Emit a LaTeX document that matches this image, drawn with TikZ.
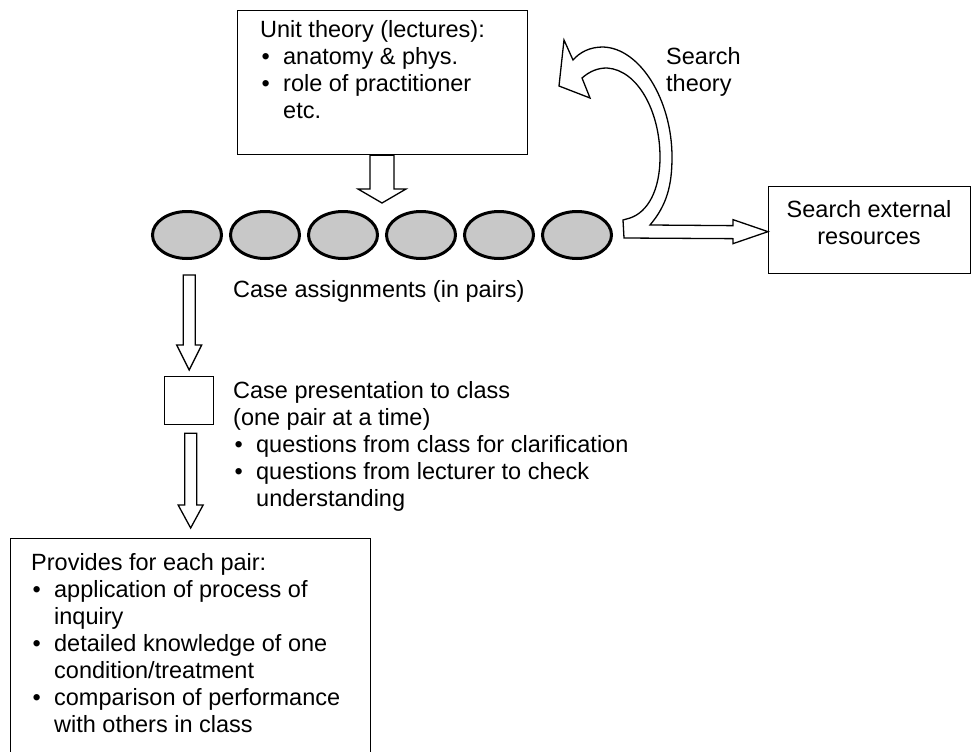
\documentclass[tikz,border=0pt]{standalone}
\usepackage{fontspec}
\setmainfont{Liberation Sans}
\usetikzlibrary{shapes.geometric,calc}

\definecolor{casegray}{RGB}{200,200,200}

% bulleted line and continuation line with the same hanging indent
\newcommand{\bul}[1]{\makebox[23pt][l]{\hspace{1.5pt}•}#1}
\newcommand{\cnt}[1]{\hspace*{23pt}#1}
% stacks of lines whose baseline is that of the first line
\newcommand{\leftlines}[1]{\vtop{\halign{##\hfil\cr#1\crcr}}}
\newcommand{\centerlines}[1]{\vtop{\halign{\hfil##\hfil\cr#1\crcr}}}

% hollow block arrow pointing down: start, tip, half shaft, half head, head length
\newcommand{\blkarrow}[5]{%
  \draw[blockarrow] let \p1=(#1), \p2=(#2) in
    (\x2-#3pt,\y1) -- (\x2+#3pt,\y1) -- (\x2+#3pt,\y2+#5pt) -- (\x2+#4pt,\y2+#5pt)
    -- (\x2,\y2) -- (\x2-#4pt,\y2+#5pt) -- (\x2-#3pt,\y2+#5pt) -- cycle;}

\tikzset{
  box/.style={draw, line width=1.3pt, rectangle, inner sep=0pt, fill=white},
  casenode/.style={ellipse, draw, line width=3pt, fill=casegray, inner sep=0pt,
    minimum width=69pt, minimum height=47pt},
  blockarrow/.style={draw, line width=1.3pt, fill=white, line join=miter},
  txt/.style={inner sep=0pt, font=\fontsize{23.5}{27}\selectfont},
}

\begin{document}
\begin{tikzpicture}[x=1pt, y=-1pt]
  \useasboundingbox (0,0) rectangle (972,752);
  \clip (0,0) rectangle (972,752);

  % boxes
  \node[box, anchor=north west, minimum width=290pt, minimum height=144pt] (lect) at (237,10) {};
  \node[box, anchor=north west, minimum width=202pt, minimum height=87pt] (ext) at (768,186) {};
  \node[box, anchor=north west, minimum width=49pt, minimum height=48pt] (pres) at (164,376) {};
  \node[box, anchor=north west, minimum width=360pt, minimum height=230pt] (prov) at (10,538) {};

  % the six case assignments
  \foreach \i in {1,...,6}
    \node[casenode] (e\i) at ({187+78*(\i-1)},235) {};

  % texts
  \node[txt, anchor=base west] (lecttext) at (260,38)
    {\leftlines{Unit theory (lectures):\cr \bul{anatomy \& phys.}\cr
      \bul{role of practitioner}\cr \cnt{etc.}}};
  \node[txt, anchor=base west] (srchtext) at (666,65)
    {\leftlines{Search\cr theory}};
  \node[txt, anchor=base] (exttext) at (869,217)
    {\centerlines{Search external\cr resources}};
  \node[txt, anchor=base west] (casetext) at (233,297)
    {Case assignments (in pairs)};
  \node[txt, anchor=base west] (prestext) at (233,398)
    {\leftlines{Case presentation to class\cr (one pair at a time)\cr
      \bul{questions from class for clarification}\cr
      \bul{questions from lecturer to check}\cr \cnt{understanding}}};
  \node[txt, anchor=base west] (provtext) at (31,570)
    {\leftlines{Provides for each pair:\cr
      \bul{application of process of}\cr \cnt{inquiry}\cr
      \bul{detailed knowledge of one}\cr \cnt{condition/treatment}\cr
      \bul{comparison of performance}\cr \cnt{with others in class}}};

  % block arrows between the stages
  \coordinate (tipA) at ($(e3.east)!0.5!(e4.west)+(0,-32)$);
  \blkarrow{lect.south}{tipA}{12}{24}{14}

  \coordinate (startB) at ($(pres.north)+(0,-101)$);
  \coordinate (tipB) at ($(pres.north)+(0,-6)$);
  \blkarrow{startB}{tipB}{6}{12.5}{25}

  \coordinate (startC) at ($(prov.north |- pres.south)+(0,8)$);
  \coordinate (tipC) at ($(prov.north)+(0,-10)$);
  \blkarrow{startC}{tipC}{6}{12.5}{23}

  % curved arrow: back up to the theory, and on to external resources
  \coordinate (exttip) at ($(ext.west)+(0,1.5)$);
  \draw[blockarrow] (623,220) -- (624,238)
    -- ($(exttip)+(-35,7)$) -- ($(exttip)+(-35,12)$) -- (exttip)
    -- ($(exttip)+(-35,-12)$) -- ($(exttip)+(-35,-6)$)
    -- (650,225) .. controls (667,205) and (672,185) .. (672,157)
    .. controls (672,100) and (640,48) .. (603,47)
    .. controls (590,47) and (580,52) .. (573,60)
    -- (564,40) -- (559,86) -- (590,98) -- (582,78)
    .. controls (590,71) and (598,68) .. (607,68)
    .. controls (638,70) and (660,112) .. (660,157)
    .. controls (660,190) and (648,212) .. (630,218) -- cycle;
\end{tikzpicture}
\end{document}
